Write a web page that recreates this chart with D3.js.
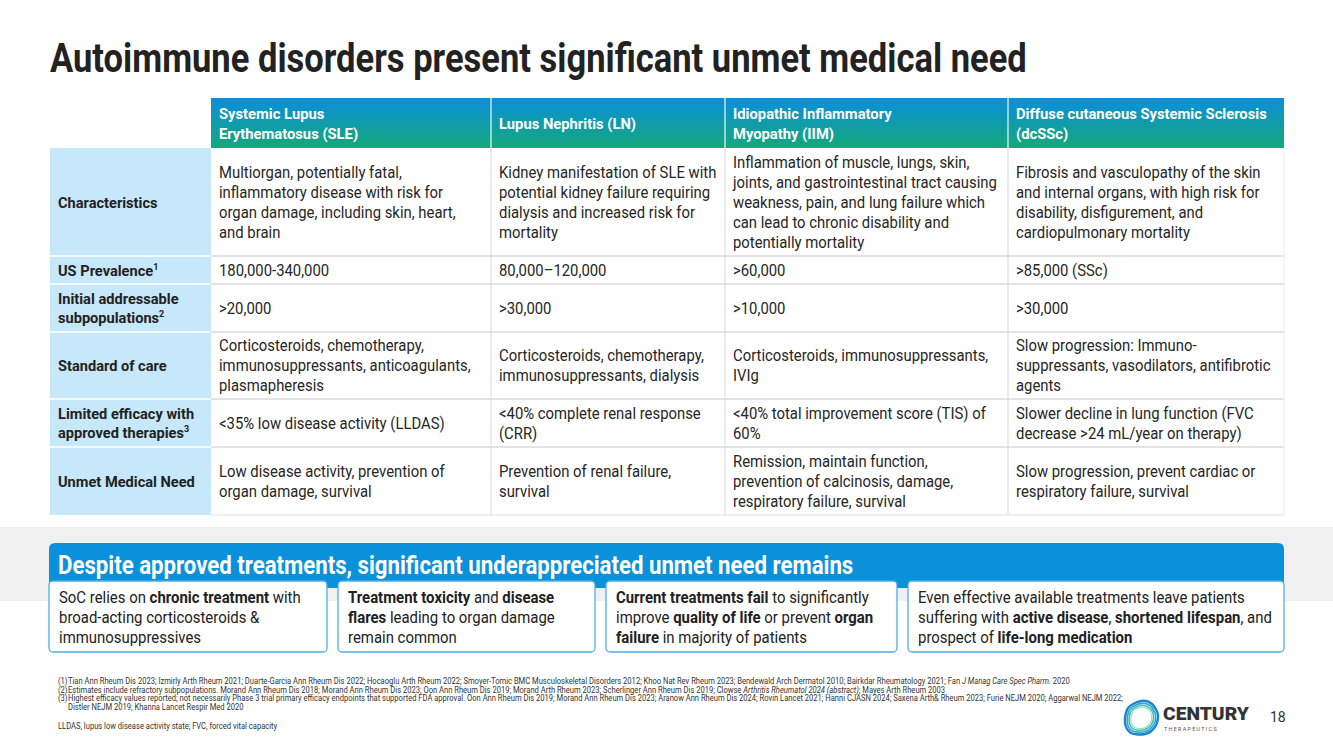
<!DOCTYPE html>
<html><head><meta charset="utf-8">
<script src="https://cdn.jsdelivr.net/npm/d3@7"></script>
<style>
html,body{margin:0;padding:0;background:#fff;}
svg{display:block;}
text{font-family:Roboto,"Liberation Sans",sans-serif;}
</style></head><body>
<svg id="c" width="1333" height="749"></svg>
<script>
// ---------------- DATA ----------------
const title = "Autoimmune disorders present significant unmet medical need";
const diseases = [
  "Systemic Lupus\nErythematosus (SLE)",
  "Lupus Nephritis (LN)",
  "Idiopathic Inflammatory\nMyopathy (IIM)",
  "Diffuse cutaneous Systemic Sclerosis\n(dcSSc)"
];
const rowLabels = [
  "Characteristics",
  "US Prevalence^1",
  "Initial addressable\nsubpopulations^2",
  "Standard of care",
  "Limited efficacy with\napproved therapies^3",
  "Unmet Medical Need"
];
const characteristics = [
  "Multiorgan, potentially fatal,\ninflammatory disease with risk for\norgan damage, including skin, heart,\nand brain",
  "Kidney manifestation of SLE with\npotential kidney failure requiring\ndialysis and increased risk for\nmortality",
  "Inflammation of muscle, lungs, skin,\njoints, and gastrointestinal tract causing\nweakness, pain, and lung failure which\ncan lead to chronic disability and\npotentially mortality",
  "Fibrosis and vasculopathy of the skin\nand internal organs, with high risk for\ndisability, disfigurement, and\ncardiopulmonary mortality"
];
const usPrevalence = ["180,000-340,000", "80,000\u2013120,000", ">60,000", ">85,000 (SSc)"];
const addressable = [">20,000", ">30,000", ">10,000", ">30,000"];
const standardOfCare = [
  "Corticosteroids, chemotherapy,\nimmunosuppressants, anticoagulants,\nplasmapheresis",
  "Corticosteroids, chemotherapy,\nimmunosuppressants, dialysis",
  "Corticosteroids, immunosuppressants,\nIVIg",
  "Slow progression: Immuno-\nsuppressants, vasodilators, antifibrotic\nagents"
];
const limitedEfficacy = [
  "<35% low disease activity (LLDAS)",
  "<40% complete renal response\n(CRR)",
  "<40% total improvement score (TIS) of\n60%",
  "Slower decline in lung function (FVC\ndecrease >24 mL/year on therapy)"
];
const unmetNeed = [
  "Low disease activity, prevention of\norgan damage, survival",
  "Prevention of renal failure,\nsurvival",
  "Remission, maintain function,\nprevention of calcinosis, damage,\nrespiratory failure, survival",
  "Slow progression, prevent cardiac or\nrespiratory failure, survival"
];
const bannerTitle = "Despite approved treatments, significant underappreciated unmet need remains";
const boxTexts = [
  "SoC relies on **chronic treatment** with\nbroad-acting corticosteroids &\nimmunosuppressives",
  "**Treatment toxicity** and **disease**\n**flares** leading to organ damage\nremain common",
  "**Current treatments fail** to significantly\nimprove **quality of life** or prevent **organ**\n**failure** in majority of patients",
  "Even effective available treatments leave patients\nsuffering with **active disease**, **shortened lifespan**, and\nprospect of **life-long medication**"
];
const footnoteMarks = ["(1)", "(2)", "(3)", ""];
const footnotes = [
  "Tian Ann Rheum Dis 2023; Izmirly Arth Rheum 2021; Duarte-Garcia Ann Rheum Dis 2022; Hocaoglu Arth Rheum 2022; Smoyer-Tomic BMC Musculoskeletal Disorders 2012; Khoo Nat Rev Rheum 2023; Bendewald Arch Dermatol 2010; Bairkdar Rheumatology 2021; Fan _J Manag Care Spec Pharm._ 2020",
  "Estimates include refractory subpopulations. Morand Ann Rheum Dis 2018; Morand Ann Rheum Dis 2023; Oon Ann Rheum Dis 2019; Morand Arth Rheum 2023; Scherlinger Ann Rheum Dis 2019; Clowse _Arthritis Rheumatol  2024 (abstract)_; Mayes Arth Rheum 2003",
  "Highest efficacy values reported; not necessarily Phase 3 trial primary efficacy endpoints that supported FDA approval.  Oon Ann Rheum Dis 2019; Morand Ann Rheum Dis 2023; Aranow Ann Rheum Dis 2024; Rovin Lancet 2021; Hanni CJASN 2024; Saxena Arth& Rheum 2023; Furie NEJM 2020; Aggarwal NEJM 2022;",
  "Distler NEJM 2019; Khanna Lancet Respir Med 2020"
];
const abbreviations = "LLDAS, lupus low disease activity state; FVC, forced vital capacity";
const brandName = "CENTURY";
const brandSub = "THERAPEUTICS";
const pageNumber = "18";

const rows = [characteristics, usPrevalence, addressable, standardOfCare, limitedEfficacy, unmetNeed];

// ---------------- LAYOUT ----------------
const svg = d3.select("#c");
const colKeys = ["label"].concat(d3.range(diseases.length));
const colX = d3.scaleOrdinal().domain(colKeys).range([50, 211, 491, 725, 1008]);
const tableRight = 1284;
const rowY = d3.scaleOrdinal().domain(d3.range(rows.length + 1)).range([148, 256, 284, 332, 399, 447, 515]);
const headerTop = 98;

const meas = svg.append("text").attr("visibility", "hidden");
function measure(str, size, weight) {
  meas.attr("font-size", size).attr("font-weight", weight).text(str.replace(/\*\*|_|\^\d/g, ""));
  return meas.node().getComputedTextLength();
}
// condensing factors calibrated to the reference widths
const bodySize = 15.8;
const kTitle = 977 / measure(title, 40, 700);
const kBody = 264 / measure("joints, and gastrointestinal tract causing", bodySize, 400);
const kHead = 251 / measure("Diffuse cutaneous Systemic Sclerosis", 15.5, 700);
const kLabel = 137 / measure("Unmet Medical Need", 15.5, 700);
const kBanner = 796 / measure(bannerTitle, 25, 700);
const kBox = 327 / measure("Even effective available treatments leave patients", bodySize, 400);
const footSize = 8.3;
const kFoot = 1006 / measure(footnotes[0], footSize, 400);

function parse(str) {
  const parts = str.split(/(\*\*[^*]+\*\*|_[^_]+_|\^\d)/).filter(s => s.length);
  return parts.map(p => {
    if (p.startsWith("**")) return {t: p.slice(2, -2), b: true};
    if (p.startsWith("_") && p.endsWith("_") && p.length > 1) return {t: p.slice(1, -1), i: true};
    if (/^\^\d$/.test(p)) return {t: p.slice(1), sup: true};
    return {t: p};
  });
}
function drawLine(g, str, x, y, size, weight, k, fill) {
  const t = g.append("text")
    .attr("transform", `translate(${x},${y}) scale(${k},1)`)
    .attr("font-size", size).attr("font-weight", weight).attr("fill", fill);
  let raised = false;
  parse(str).forEach(s => {
    const ts = t.append("tspan").text(s.t);
    if (s.b) ts.attr("font-weight", 700);
    if (s.i) ts.attr("font-style", "italic");
    if (s.sup) { ts.attr("font-size", size * 0.62).attr("dy", -size * 0.38); raised = true; }
    else if (raised) { ts.attr("dy", size * 0.38); raised = false; }
  });
  return t;
}
function drawBlock(g, str, x, cy, size, weight, k, fill, lh) {
  const lines = str.split("\n");
  lines.forEach((ln, i) => {
    const y = cy - (lines.length - 1) * lh / 2 + i * lh + size * 0.36;
    drawLine(g, ln, x, y, size, weight, k, fill);
  });
}

const defs = svg.append("defs");
const grad = defs.append("linearGradient").attr("id", "hdr").attr("x1", 0).attr("y1", 0).attr("x2", 0).attr("y2", 1);
grad.append("stop").attr("offset", "0%").attr("stop-color", "#0a8fdc");
grad.append("stop").attr("offset", "100%").attr("stop-color", "#14a87a");

// Title
drawLine(svg, title, 50, 72, 40, 700, kTitle, "#222");

// Header
const head = svg.append("g");
head.append("rect").attr("x", colX(0)).attr("y", headerTop).attr("width", tableRight - colX(0))
  .attr("height", rowY(0) - headerTop).attr("fill", "url(#hdr)");
diseases.forEach((d, i) => {
  if (i > 0) head.append("line").attr("x1", colX(i)).attr("x2", colX(i)).attr("y1", headerTop).attr("y2", rowY(0))
    .attr("stroke", "#ffffff").attr("stroke-opacity", 0.75).attr("stroke-width", 1.5);
  drawBlock(head, d, colX(i) + 8, (headerTop + rowY(0)) / 2 + 0.5, 15.5, 700, kHead, "#fff", 19.5);
});

// Body
const body = svg.append("g");
rows.forEach((r, ri) => {
  const y0 = rowY(ri), y1 = rowY(ri + 1);
  body.append("rect").attr("x", colX("label")).attr("y", y0).attr("width", colX(0) - colX("label"))
    .attr("height", y1 - y0).attr("fill", "#c7e7fa");
  body.append("rect").attr("x", colX(0)).attr("y", y0).attr("width", tableRight - colX(0))
    .attr("height", y1 - y0).attr("fill", "#fff");
});
rows.forEach((r, ri) => {
  if (ri === 0) return;
  body.append("line").attr("x1", colX("label")).attr("x2", colX(0)).attr("y1", rowY(ri)).attr("y2", rowY(ri))
    .attr("stroke", "#f4f9fc").attr("stroke-width", 2);
  body.append("line").attr("x1", colX(0)).attr("x2", tableRight).attr("y1", rowY(ri)).attr("y2", rowY(ri))
    .attr("stroke", "#e3e3e3").attr("stroke-width", 2);
});
body.append("line").attr("x1", colX(0)).attr("x2", tableRight).attr("y1", rowY(rows.length)).attr("y2", rowY(rows.length))
  .attr("stroke", "#ececec").attr("stroke-width", 1.5);
diseases.forEach((d, i) => {
  if (i === 0) return;
  body.append("line").attr("x1", colX(i)).attr("x2", colX(i)).attr("y1", rowY(0)).attr("y2", rowY(rows.length))
    .attr("stroke", "#d9d9d9").attr("stroke-width", 1);
});
body.append("line").attr("x1", tableRight).attr("x2", tableRight).attr("y1", rowY(0)).attr("y2", rowY(rows.length))
  .attr("stroke", "#ececec").attr("stroke-width", 1);
rows.forEach((r, ri) => {
  const cy = (rowY(ri) + rowY(ri + 1)) / 2;
  drawBlock(body, rowLabels[ri], colX("label") + 8, cy, 15.5, 700, kLabel, "#222", 19.5);
  r.forEach((cell, ci) => drawBlock(body, cell, colX(ci) + 8, cy, bodySize, 400, kBody, "#262626", 20));
});

// Bottom band
const band = svg.append("g");
band.append("rect").attr("x", 0).attr("y", 527).attr("width", 1333).attr("height", 74).attr("fill", "#f0f0f0");
const bx0 = 49, bx1 = 1284, by0 = 543, by1 = 588, br = 6;
band.append("path").attr("d",
  `M${bx0},${by1} V${by0 + br} Q${bx0},${by0} ${bx0 + br},${by0} H${bx1 - br} Q${bx1},${by0} ${bx1},${by0 + br} V${by1} Z`)
  .attr("fill", "#0a91db");
drawLine(band, bannerTitle, 58, 573.5, 25, 700, kBanner, "#fff");
const boxX = d3.scaleOrdinal().domain(d3.range(boxTexts.length)).range([49, 338, 606, 908]);
const boxR = d3.scaleOrdinal().domain(d3.range(boxTexts.length)).range([327, 595, 897, 1284]);
boxTexts.forEach((bt, i) => {
  band.append("rect").attr("x", boxX(i)).attr("y", 581).attr("width", boxR(i) - boxX(i)).attr("height", 71)
    .attr("rx", 4).attr("fill", "#fff").attr("stroke", "#52ade2").attr("stroke-width", 1.3);
  drawBlock(band, bt, boxX(i) + 10, 617, bodySize, 400, kBox, "#222", 20);
});

// Footnotes
const fn = svg.append("g");
const fnY = d3.scaleOrdinal().domain(d3.range(footnotes.length)).range([684, 692.5, 701, 709.5]);
footnotes.forEach((f, i) => {
  if (footnoteMarks[i]) drawLine(fn, footnoteMarks[i], 58, fnY(i), footSize, 400, kFoot, "#333");
  drawLine(fn, f, 68, fnY(i), footSize, 400, kFoot, "#333");
});
drawLine(fn, abbreviations, 58, 729, footSize, 400, kFoot, "#333");

// Logo
const logo = svg.append("g").attr("transform", "translate(1141,718)");
const blob = [[0,-17],[11,-14],[17,-3],[14,9],[4,16],[-10,15],[-16,5],[-13,-10]];
const blobLine = d3.line().curve(d3.curveCardinalClosed.tension(0.1));
[[1.0, "#1a84d2", 2.4], [0.86, "#2aa8cf", 1.6], [0.74, "#3fbfa6", 1.6], [0.63, "#9fdccd", 1.2]].forEach(([s, c, w]) => {
  logo.append("path").attr("d", blobLine(blob.map(p => [p[0] * s, p[1] * s])))
    .attr("fill", "none").attr("stroke", c).attr("stroke-width", w);
});
const kBrand = 86 / measure(brandName, 19, 900);
drawLine(svg, brandName, 1163, 720, 19, 900, kBrand, "#333");
svg.append("text").attr("x", 1164).attr("y", 731).attr("font-size", 5.4).attr("letter-spacing", 1.3)
  .attr("fill", "#555").text(brandSub);
svg.append("text").attr("x", 1270).attr("y", 722).attr("font-size", 14).attr("fill", "#333").text(pageNumber);
meas.remove();
</script>
</body></html>
